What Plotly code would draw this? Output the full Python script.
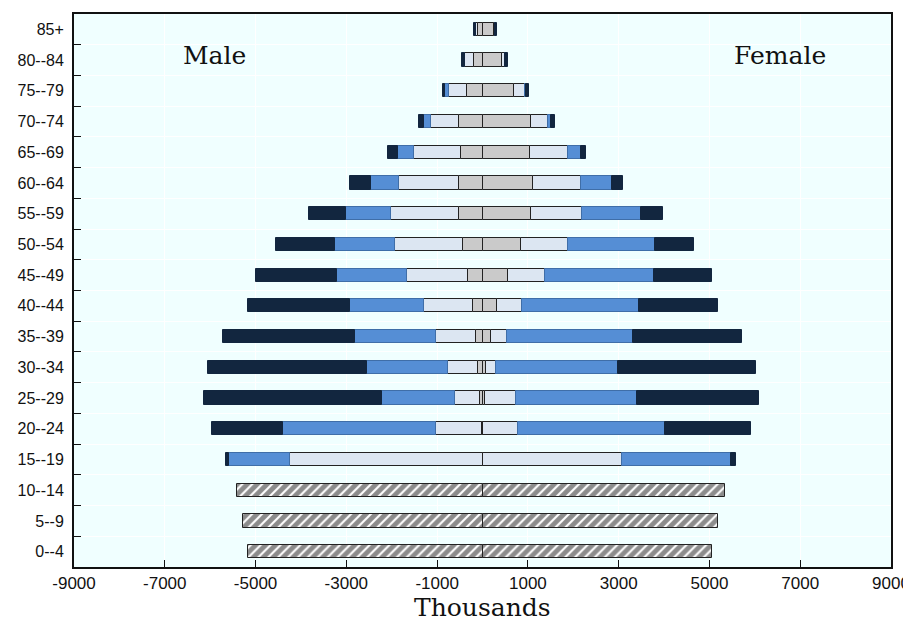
import plotly.graph_objects as go

# age groups, bottom to top
AGES = ["0--4", "5--9", "10--14", "15--19", "20--24", "25--29", "30--34", "35--39",
        "40--44", "45--49", "50--54", "55--59", "60--64", "65--69", "70--74",
        "75--79", "80--84", "85+"]

# x axis ticks
X_TICKS = [-9000, -7000, -5000, -3000, -1000, 1000, 3000, 5000, 7000, 9000]
X_TICK_TEXT = ["-9000", "-7000", "-5000", "-3000", "-1000", "1000", "3000", "5000", "7000", "9000"]

# children (no education split), thousands
CHILD_AGES = ["0--4", "5--9", "10--14"]
child_male = [5156, 5266, 5401]
child_female = [5063, 5190, 5333]

# 15+ split by education level, thousands (15--19 ... 85+)
EDU_AGES = AGES[3:]
male_low = [0, 17, 51, 101, 143, 211, 321, 430, 515, 515, 464, 519, 340, 186, 90]
male_lowsec = [4245, 1013, 557, 658, 887, 1072, 1333, 1502, 1502, 1325, 1037, 619, 395, 200, 50]
male_upsec = [1350, 3375, 1603, 1790, 1772, 1637, 1544, 1317, 987, 624, 356, 155, 85, 10, 10]
male_tert = [67, 1544, 3916, 3493, 2911, 2236, 1789, 1300, 827, 464, 232, 116, 50, 54, 40]

female_low = [0, 17, 59, 84, 186, 329, 565, 844, 1072, 1114, 1037, 1068, 704, 426, 250]
female_lowsec = [3063, 759, 684, 220, 363, 540, 811, 1038, 1131, 1055, 844, 372, 232, 62, 25]
female_upsec = [2422, 3249, 2658, 2692, 2776, 2574, 2396, 1915, 1282, 683, 286, 77, 30, 15, 10]
female_tert = [101, 1899, 2700, 3029, 2397, 1738, 1283, 853, 498, 253, 124, 77, 65, 60, 35]

LEVELS = [
    ('Below lower secondary', male_low, female_low, '#cacaca', '#222222'),
    ('Lower secondary', male_lowsec, female_lowsec, '#dce6f2', '#222222'),
    ('Upper secondary', male_upsec, female_upsec, '#558ed5', '#3f6ea8'),
    ('Tertiary', male_tert, female_tert, '#12263f', '#12263f'),
]

BAR_W = 0.43
SANS = 'Liberation Sans, Arial, sans-serif'
SERIF = 'DejaVu Serif, Liberation Serif, serif'

fig = go.Figure()

for name, m, f, color, edge in LEVELS:
    for vals, sign in ((m, -1), (f, 1)):
        fig.add_trace(go.Bar(
            y=EDU_AGES, x=[sign * v for v in vals], orientation='h', name=name,
            width=BAR_W, showlegend=False,
            marker=dict(color=color, line=dict(color=edge, width=1)),
        ))

for vals, sign in ((child_male, -1), (child_female, 1)):
    fig.add_trace(go.Bar(
        y=CHILD_AGES, x=[sign * v for v in vals], orientation='h', name='Children',
        width=BAR_W, showlegend=False,
        marker=dict(color='white', line=dict(color='#222222', width=1),
                    pattern=dict(shape='/', fgcolor='#1a1a1a', bgcolor='white',
                                 size=7, solidity=0.7)),
    ))

fig.add_annotation(x=-5900, y='80--84', yshift=5, text='Male', showarrow=False,
                   font=dict(family=SERIF, size=25, color='#111111'))
fig.add_annotation(x=6550, y='80--84', yshift=5, text='Female', showarrow=False,
                   font=dict(family=SERIF, size=25, color='#111111'))
# axis title as an annotation so it can sit lower than the margin allows
fig.add_annotation(x=0.5, y=-0.074, xref='paper', yref='paper', yanchor='middle',
                   text='Thousands', showarrow=False,
                   font=dict(family=SERIF, size=25, color='#111111'))

# the page body adds an 8px margin; figure offset accounted for in the margins
fig.update_layout(
    barmode='relative',
    bargap=0,
    width=903, height=618,
    paper_bgcolor='white',
    plot_bgcolor='#f0ffff',
    margin=dict(l=66, r=20, t=6, b=59),
    showlegend=False,
)
fig.update_xaxes(
    range=[-9000, 9000], tickvals=X_TICKS, ticktext=X_TICK_TEXT,
    ticks='inside', ticklen=7, tickcolor='#111111', tickwidth=1,
    ticklabeloverflow='allow', automargin=False,
    showline=True, linecolor='#111111', linewidth=2, mirror=True,
    showgrid=True, gridcolor='white', gridwidth=1, zeroline=False,
    tickfont=dict(family=SANS, size=17, color='#111111'),
)
fig.update_yaxes(
    type='category', categoryorder='array', categoryarray=AGES,
    range=[-0.5, len(AGES) - 0.5],
    tickson='boundaries', ticks='inside', ticklen=7, tickcolor='#111111', tickwidth=1,
    ticklabelstandoff=5, automargin=False,
    showline=True, linecolor='#111111', linewidth=2, mirror=True,
    showgrid=True, gridcolor='white', gridwidth=1,
    tickfont=dict(family=SANS, size=16, color='#111111'),
)

fig.write_html("out.html")
